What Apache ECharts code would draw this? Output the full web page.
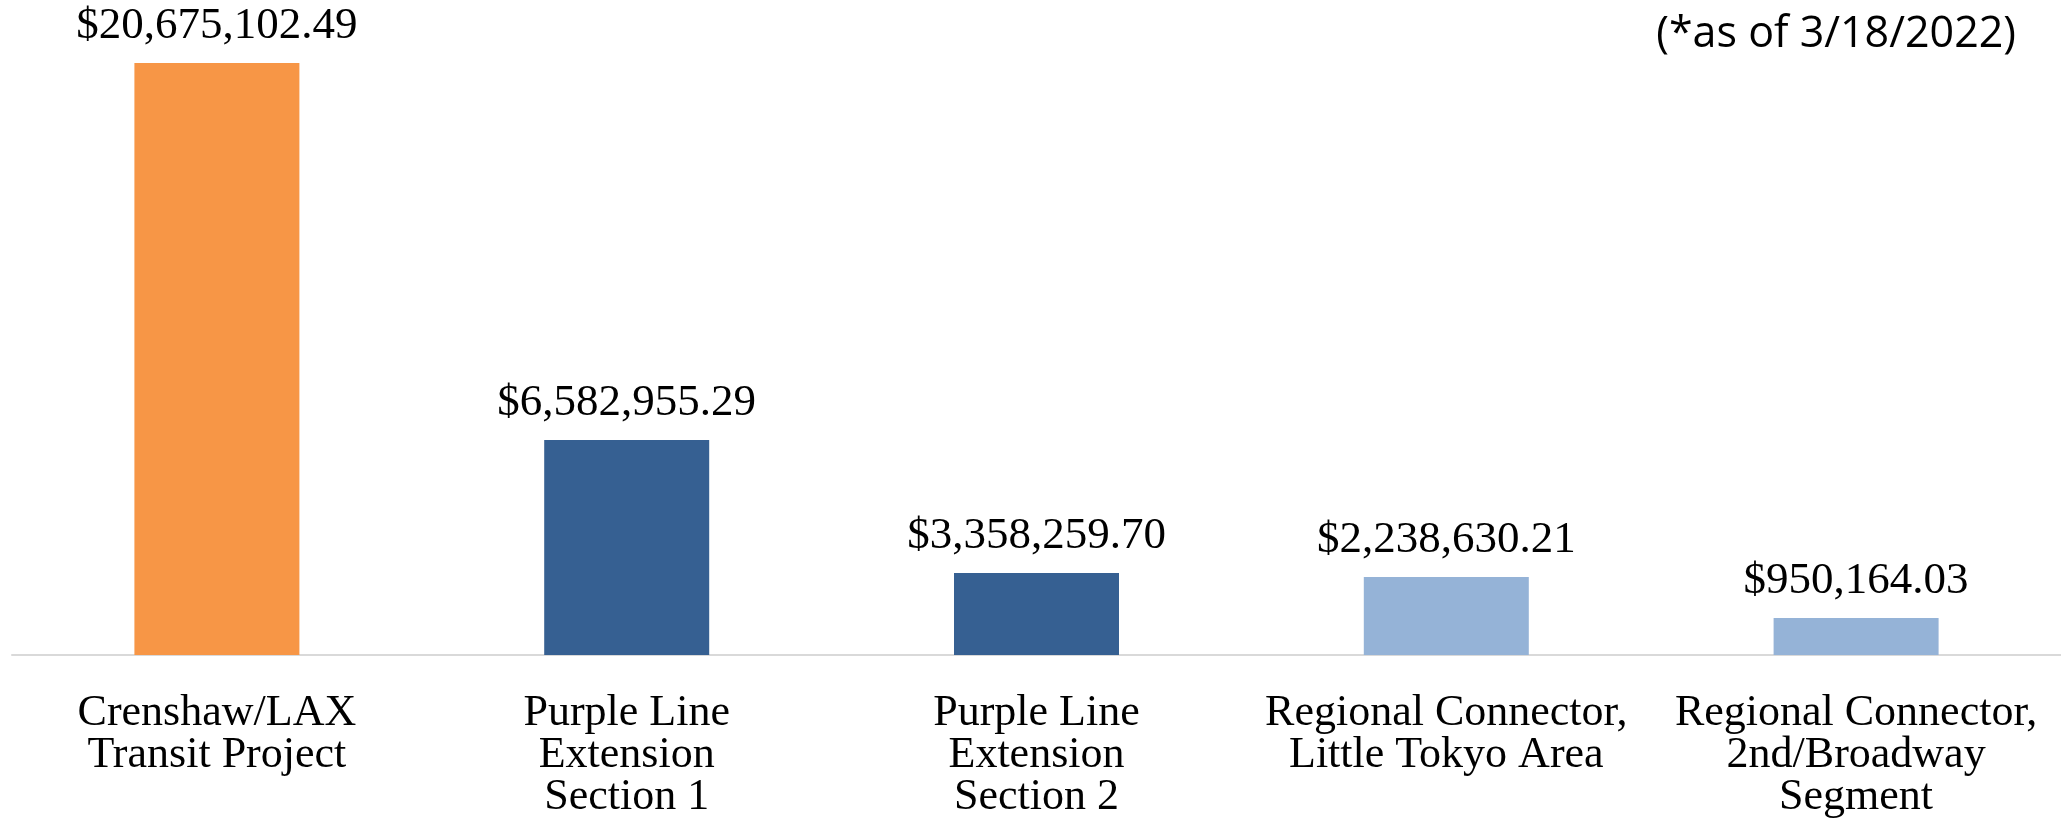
<!DOCTYPE html>
<html>
<head>
<meta charset="utf-8">
<script src="https://cdn.jsdelivr.net/npm/echarts@6/dist/echarts.min.js"></script>
<style>html,body{margin:0;padding:0;background:#fff;}#c{width:2061px;height:820px;}</style>
</head>
<body>
<div id="c"></div>
<script>
// Categories (x axis)
const categories = [
  "Crenshaw/LAX\nTransit Project",
  "Purple Line\nExtension\nSection 1",
  "Purple Line\nExtension\nSection 2",
  "Regional Connector,\nLittle Tokyo Area",
  "Regional Connector,\n2nd/Broadway\nSegment"
];
// Bar heights (millions, chart scale)
const barValues = [20.675, 7.51, 2.86, 2.72, 1.29];
// Printed value labels
const valueLabels = ["$20,675,102.49", "$6,582,955.29", "$3,358,259.70", "$2,238,630.21", "$950,164.03"];
// Bar colours
const barColors = ["#F79646", "#366092", "#366092", "#95B3D7", "#95B3D7"];
const noteText = "(*as of 3/18/2022)";

const chart = echarts.init(document.getElementById('c'));
chart.setOption({
  backgroundColor: '#ffffff',
  animation: false,
  title: {
    text: noteText,
    right: 40,
    top: 8,
    textStyle: { fontFamily: 'Open Sans', fontSize: 43, fontWeight: 'normal', color: '#000' }
  },
  grid: { left: 12, right: -6, top: 63, bottom: 165, containLabel: false },
  xAxis: {
    type: 'category',
    data: categories,
    axisLine: { show: true, lineStyle: { color: '#D9D9D9', width: 2 } },
    axisTick: { show: false },
    axisLabel: {
      interval: 0,
      margin: 37,
      fontFamily: 'Liberation Serif',
      fontSize: 44,
      lineHeight: 42,
      color: '#000'
    }
  },
  yAxis: {
    type: 'value',
    min: 0,
    max: 20.675,
    show: false,
    splitLine: { show: false }
  },
  series: [{
    type: 'bar',
    barWidth: 165,
    data: barValues.map((v, i) => ({ value: v, itemStyle: { color: barColors[i] } })),
    label: {
      show: true,
      position: 'top',
      distance: 14,
      formatter: p => valueLabels[p.dataIndex],
      fontFamily: 'Liberation Serif',
      fontSize: 45,
      color: '#000'
    }
  }]
});
</script>
</body>
</html>
